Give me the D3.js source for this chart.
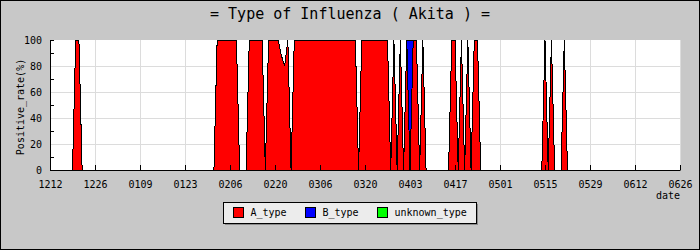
<!DOCTYPE html>
<html><head><meta charset="utf-8">
<script src="https://cdn.jsdelivr.net/npm/d3@7"></script>
<style>html,body{margin:0;padding:0;background:#c8c8c8}svg{display:block}</style>
</head><body><svg id="c" width="700" height="250"></svg>
<script>
const title = "= Type of Influenza ( Akita ) =";
const yLabel = "Positive_rate(%)";
const xLabel = "date";
const dates = ["1212","1219","1220","1221","1222","0201","0202","0208","0209","0211","0212","0216","0217","0218","0221","0222","0223","0224","0225","0226","0317","0318","0319","0327","0328","0329","0330","0331","0401","0402","0403","0404","0405","0406","0407","0408","0415","0416","0417","0418","0419","0420","0421","0422","0423","0424","0425","0514","0515","0516","0517","0518","0520","0521","0522","0626"];
const aType = [0,0,100,100,0,0,100,100,0,0,100,100,0,100,100,88,80,100,0,100,100,0,100,100,0,100,0,100,0,100,0,100,100,0,100,0,0,100,100,0,100,0,100,0,100,100,0,0,100,0,100,0,0,100,0,0];
const bType = [0,0,0,0,0,0,0,0,0,0,0,0,0,0,0,0,0,0,0,0,0,0,0,0,0,0,0,0,0,0,100,0,0,0,0,0,0,0,0,0,0,0,0,0,0,0,0,0,0,0,0,0,0,0,0,0];
const unknownType = [0,0,0,0,0,0,0,0,0,0,0,0,0,0,0,0,0,0,0,0,0,0,0,0,0,0,0,0,0,0,0,0,0,0,0,0,0,0,0,0,0,0,0,0,0,0,0,0,0,0,0,0,0,0,0,0];
const seriesNames = ["A_type","B_type","unknown_type"];
const seriesColors = ["#ff0000","#0000ff","#00ff00"];
const tickLabels = ["1212","1226","0109","0123","0206","0220","0306","0320","0403","0417","0501","0515","0529","0612","0626"];
const yMajor = [0,20,40,60,80,100];
const yMinor = [10,30,50,70,90];

function parseMD(s){ const m=+s.slice(0,2), d=+s.slice(2); return new Date(Date.UTC(m===12?2022:2023, m-1, d)); }

const svg = d3.select("#c");
const W=700,H=250;
svg.append("rect").attr("x",0.5).attr("y",0.5).attr("width",W-1).attr("height",H-1).attr("fill","#c8c8c8").attr("stroke","#000");

const tickDates = tickLabels.map(parseMD);
const x = d3.scaleUtc().domain([tickDates[0], tickDates[tickDates.length-1]]).range([50,680]);
const y = d3.scaleLinear().domain([0,100]).range([170,40]);

svg.append("rect").attr("x",50).attr("y",40).attr("width",630).attr("height",130).attr("fill","#fff");

// grid
svg.append("g").attr("transform","translate(0,170)")
  .call(d3.axisBottom(x).tickValues(tickDates.slice(1)).tickSize(-130).tickFormat(""))
  .call(g=>{g.select(".domain").remove();g.selectAll("line").attr("stroke","#dcdcdc");});
svg.append("g").attr("transform","translate(50,0)")
  .call(d3.axisLeft(y).tickValues([20,40,60,80]).tickSize(-630).tickFormat(""))
  .call(g=>{g.select(".domain").remove();g.selectAll("line").attr("stroke","#dcdcdc");});

// data
const rows = dates.map((d,i)=>({date:parseMD(d),A_type:aType[i],B_type:bType[i],unknown_type:unknownType[i]}));
const stacked = d3.stack().keys(seriesNames)(rows);
const area = d3.area().x(d=>x(d.data.date)).y0(d=>y(d[0])).y1(d=>y(d[1]));
const line = d3.line().x(d=>x(d.data.date)).y(d=>y(d[1]));
const gData = svg.append("g");
stacked.forEach((s,i)=>{
  gData.append("path").attr("d",area(s)).attr("fill",seriesColors[i]).attr("shape-rendering","crispEdges");
});
stacked.forEach((s,i)=>{
  gData.append("path").attr("d",line(s)).attr("fill","none").attr("stroke","#000").attr("stroke-width",1).attr("shape-rendering","crispEdges");
});

// axes
const fontMono = "'DejaVu Sans Mono', 'Liberation Mono', monospace";
svg.append("g").attr("transform","translate(0,170)")
  .call(d3.axisBottom(x).tickValues(tickDates).tickSizeInner(-5).tickSizeOuter(0).tickPadding(11).tickFormat((d,i)=>tickLabels[i]))
  .call(g=>{g.selectAll("line").attr("stroke","#000");g.select(".domain").attr("stroke","#000");
    g.selectAll("text").attr("fill","#000").attr("font-family",fontMono).attr("font-size",10);});
svg.append("g").attr("transform","translate(50,0)")
  .call(d3.axisLeft(y).tickValues(yMajor).tickSizeInner(0).tickSizeOuter(0).tickPadding(8))
  .call(g=>{g.select(".domain").attr("stroke","#000");
    g.selectAll("text").attr("fill","#000").attr("font-family",fontMono).attr("font-size",10);});
svg.append("g").attr("transform","translate(50,0)")
  .call(d3.axisLeft(y).tickValues(yMinor.concat([100])).tickSizeInner(-4).tickSizeOuter(0).tickFormat(""))
  .call(g=>{g.select(".domain").remove();g.selectAll("line").attr("stroke","#000");});

// titles
svg.append("text").attr("x",350).attr("y",19).attr("text-anchor","middle")
  .attr("font-family",fontMono).attr("font-size",15).attr("fill","#000").text(title);
svg.append("text").attr("transform","translate(23.5,107) rotate(-90)").attr("text-anchor","middle")
  .attr("font-family",fontMono).attr("font-size",10).attr("fill","#000").text(yLabel);
svg.append("text").attr("x",680).attr("y",199).attr("text-anchor","end")
  .attr("font-family",fontMono).attr("font-size",10).attr("fill","#000").text(xLabel);

// legend
const lg = svg.append("g");
lg.append("rect").attr("x",225).attr("y",204).attr("width",253).attr("height",21).attr("fill","#8c8c8c");
lg.append("rect").attr("x",223.5).attr("y",202.5).attr("width",253).attr("height",21).attr("fill","#ececec").attr("stroke","#000");
const legX = [233.5,305.5,377.5];
seriesNames.forEach((n,i)=>{
  lg.append("rect").attr("x",legX[i]).attr("y",207.5).attr("width",10).attr("height",10).attr("fill",seriesColors[i]).attr("stroke","#000");
  lg.append("text").attr("x",legX[i]+17).attr("y",216).attr("font-family",fontMono).attr("font-size",10).attr("fill","#000").text(n);
});
</script></body></html>
